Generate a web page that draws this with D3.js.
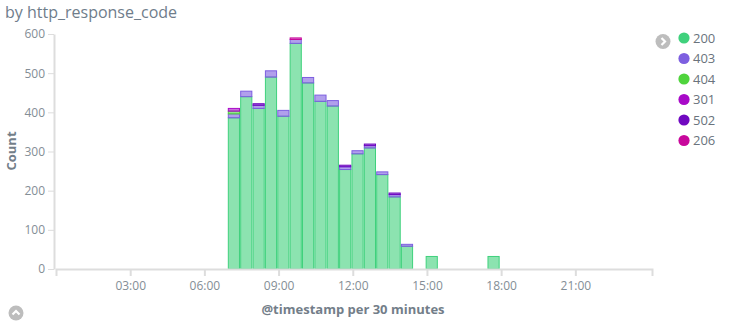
<!DOCTYPE html>
<html>
<head>
<meta charset="utf-8">
<script src="https://cdn.jsdelivr.net/npm/d3@7"></script>
<style>
  body { margin: 0; background: #fff; font-family: "Open Sans", sans-serif; }
  .axis path, .axis line { stroke: #ddd; }
  .axis text { fill: #848e96; font-size: 12px; font-family: "Open Sans", sans-serif; }
</style>
</head>
<body>
<svg width="745" height="327"></svg>
<script>
var width = 745;
var height = 327;

// half hour buckets (start times)
var times = ['07:00','07:30','08:00','08:30','09:00','09:30','10:00','10:30',
             '11:00','11:30','12:00','12:30','13:00','13:30','14:00','15:00','17:30'];
var codes = ['200','403','404','301','502','206'];
var colors = ['#3fd17c','#7d5fe0','#4fd43c','#a80ac8','#7008c0','#c8089c'];

var count200 = [386,440,410,490,390,576,475,428,416,254,294,309,241,184,58,32,32];
var count403 = [10, 14, 8, 16, 15, 10, 14, 16, 14, 7, 8, 6, 7, 6, 5, 0, 0];
var count404 = [7, 0, 0, 0, 0, 0, 0, 0, 0, 0, 0, 0, 0, 0, 0, 0, 0];
var count301 = [7, 0, 0, 0, 0, 0, 0, 0, 0, 0, 0, 0, 0, 0, 0, 0, 0];
var count502 = [0, 0, 4, 0, 0, 0, 0, 0, 0, 4, 0, 4, 0, 4, 0, 0, 0];
var count206 = [0, 0, 0, 0, 0, 4, 0, 0, 0, 0, 0, 0, 0, 0, 0, 0, 0];

var yTicks = [0,100,200,300,400,500,600];
var xTicks = ['03:00','06:00','09:00','12:00','15:00','18:00','21:00'];

var parse = d3.timeParse('%Y-%m-%d %H:%M');
function day(t){ return parse('2015-05-19 ' + t); }

var rows = times.map(function(t, i){
  return { t: day(t), '200': count200[i], '403': count403[i], '404': count404[i],
           '301': count301[i], '502': count502[i], '206': count206[i] };
});

var color = d3.scaleOrdinal().domain(codes).range(colors);

var xScale = d3.scaleTime()
  .domain([day('00:00'), d3.timeMinute.offset(day('00:00'), 24*60 + 6)])
  .range([56, 652]);

var yScale = d3.scaleLinear()
  .domain([0, 600])
  .range([269, 34]);

var svg = d3.select('svg');

// title
svg.append('text')
  .attr('x', 5).attr('y', 18)
  .style('font-size', '16px')
  .style('fill', '#6f7d8b')
  .text('by http_response_code');

var stack = d3.stack().keys(codes)(rows);

svg.append('g')
  .selectAll('g')
  .data(stack)
  .enter().append('g')
    .attr('fill', d => color(d.key))
    .attr('stroke', d => color(d.key))
  .selectAll('rect')
  .data(d => d.filter(p => p[1] > p[0]))
  .enter().append('rect')
    .attr('x', d => xScale(d.data.t) - 0.8)
    .attr('width', d => xScale(d3.timeMinute.offset(d.data.t, 30)) - xScale(d.data.t) - 1.2)
    .attr('y', d => yScale(d[1]))
    .attr('height', d => yScale(d[0]) - yScale(d[1]))
    .attr('fill-opacity', 0.6)
    .attr('stroke-width', 1);

// axes
var yAxis = svg.append('g')
  .classed('axis', true)
  .attr('transform', 'translate(54, 0)')
  .call(d3.axisLeft(yScale).tickValues(yTicks).tickSize(6).tickSizeOuter(0).tickPadding(3));
yAxis.select('.domain').attr('stroke-width', 2);

var xAxis = svg.append('g')
  .classed('axis', true)
  .attr('transform', 'translate(0, 269)')
  .call(d3.axisBottom(xScale)
    .tickValues(xTicks.map(day))
    .tickFormat(d3.timeFormat('%H:%M'))
    .tickSize(7).tickSizeOuter(7).tickPadding(5));
xAxis.select('.domain').attr('stroke-width', 2);
xAxis.selectAll('.tick line').attr('stroke-width', 2);

// axis labels
svg.append('text')
  .attr('transform', 'rotate(-90)')
  .attr('x', -151).attr('y', 16)
  .style('text-anchor', 'middle')
  .style('font-size', '13px').style('font-weight', 'bold')
  .style('fill', '#737e89')
  .text('Count');

svg.append('text')
  .attr('x', 353).attr('y', 314)
  .style('text-anchor', 'middle')
  .style('font-size', '13px').style('font-weight', 'bold')
  .style('fill', '#737e89')
  .text('@timestamp per 30 minutes');

// legend
var legend = svg.append('g').attr('transform', 'translate(684, 38)');
var item = legend.selectAll('g')
  .data(codes)
  .enter().append('g')
    .attr('transform', (d, i) => `translate(0, ${i * 20.5})`);
item.append('circle').attr('r', 5.6).attr('fill', d => color(d));
item.append('text')
  .attr('x', 9).attr('dy', '0.36em')
  .style('font-size', '13px').style('fill', '#6a737d')
  .text(d => d);

// toggle buttons
function chevron(cx, cy, dir){
  var g = svg.append('g').attr('transform', `translate(${cx}, ${cy})`);
  g.append('circle').attr('r', 7.5).attr('fill', '#bdbdbd');
  var p = dir === 'right' ? 'M-1.5,-3.5 L2,0 L-1.5,3.5' : 'M-3.5,1.5 L0,-2 L3.5,1.5';
  g.append('path').attr('d', p).attr('fill', 'none')
    .attr('stroke', '#fff').attr('stroke-width', 2.2);
}
chevron(663, 41.5, 'right');
chevron(16, 313, 'up');
</script>
</body>
</html>
